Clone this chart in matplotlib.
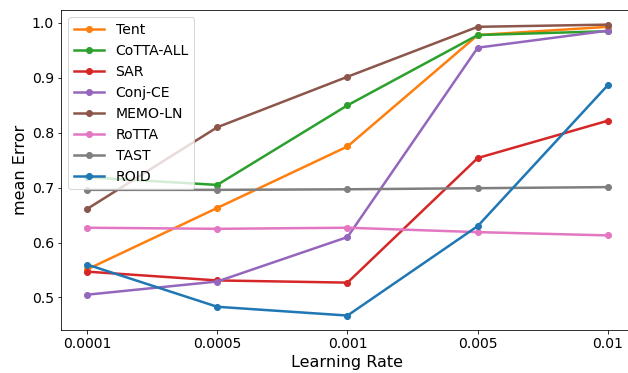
import numpy as np
import matplotlib
matplotlib.use("Agg")
import matplotlib.pyplot as plt

# learning rates (categorical x axis)
lrs = ["0.0001", "0.0005", "0.001", "0.005", "0.01"]

tent = [0.551, 0.663, 0.775, 0.978, 0.993]
cotta_all = [0.719, 0.705, 0.850, 0.978, 0.985]
sar = [0.547, 0.531, 0.527, 0.754, 0.822]
conj_ce = [0.505, 0.529, 0.610, 0.955, 0.986]
memo_ln = [0.661, 0.810, 0.902, 0.993, 0.997]
rotta = [0.627, 0.625, 0.627, 0.619, 0.613]
tast = [0.696, 0.696, 0.697, 0.699, 0.701]
roid = [0.560, 0.483, 0.467, 0.630, 0.887]

series = [
    ("Tent", tent, "tab:orange"),
    ("CoTTA-ALL", cotta_all, "tab:green"),
    ("SAR", sar, "tab:red"),
    ("Conj-CE", conj_ce, "tab:purple"),
    ("MEMO-LN", memo_ln, "tab:brown"),
    ("RoTTA", rotta, "tab:pink"),
    ("TAST", tast, "tab:gray"),
    ("ROID", roid, "tab:blue"),
]

# 72 dpi so that 1pt == 1px
fig, ax = plt.subplots(figsize=(628 / 72, 373 / 72), dpi=72)
x = np.arange(len(lrs))
for name, vals, col in series:
    ax.plot(x, vals, marker="o", markersize=6, linewidth=2.5, color=col, label=name)

ax.set_xticks(x)
ax.set_xticklabels(lrs)
ax.tick_params(labelsize=14)
ax.set_xlabel("Learning Rate", fontsize=16)
ax.set_ylabel("mean Error", fontsize=16)
ax.legend(loc="upper left", fontsize=14, handlelength=2.2)
# right spine sits just past the image edge, as in the reference crop
fig.subplots_adjust(left=0.097, right=1.0096, top=0.973, bottom=0.115)
fig.savefig("out.png", dpi=72)
